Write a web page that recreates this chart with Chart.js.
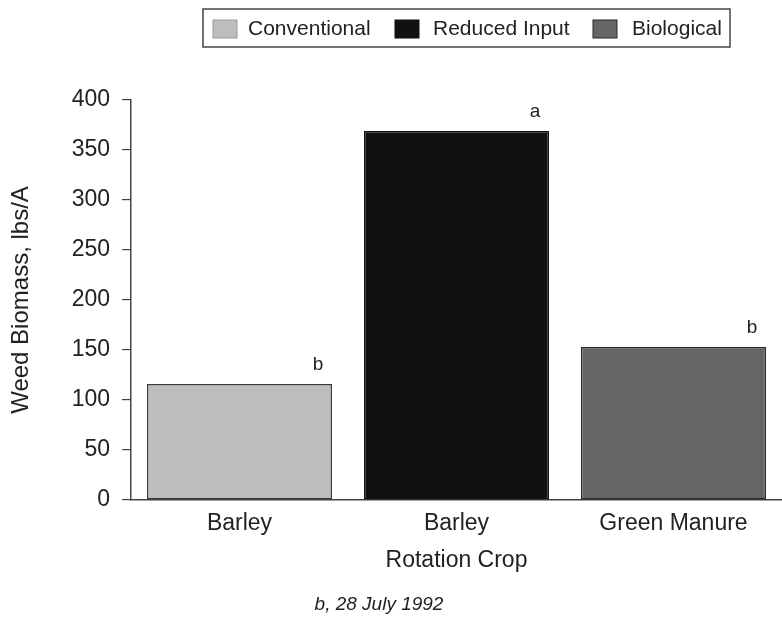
<!DOCTYPE html>
<html>
<head>
<meta charset="utf-8">
<script src="https://cdn.jsdelivr.net/npm/chart.js@4"></script>
<style>
html,body{margin:0;padding:0;background:#fff;overflow:hidden;}
#wrap{width:782px;height:621px;position:relative;}
</style>
</head>
<body>
<div id="wrap"><canvas id="c" width="782" height="621"></canvas></div>
<script>
const categories = ["Barley", "Barley", "Green Manure"];
const seriesNames = ["Conventional", "Reduced Input", "Biological"];
const conventional = [116, null, null];
const reducedInput = [null, 369, null];
const biological = [null, null, 153];
const letters = ["b", "a", "b"];
const yTicks = [0, 50, 100, 150, 200, 250, 300, 350, 400];

const fills = ["#bdbdbd", "#111111", "#666666"];
const borders = ["#3a3a3a", "#111111", "#2a2a2a"];
const FONT = "'Liberation Sans', Arial, Helvetica, sans-serif";

const seriesData = [conventional, reducedInput, biological];

const annotate = {
  id: 'annotate',
  afterDatasetsDraw(chart) {
    const ctx = chart.ctx;
    const y = chart.scales.y;
    ctx.save();
    ctx.font = "19px " + FONT;
    ctx.fillStyle = "#222";
    ctx.textAlign = "center";
    ctx.textBaseline = "alphabetic";
    seriesData.forEach((arr, di) => {
      const meta = chart.getDatasetMeta(di);
      arr.forEach((v, i) => {
        if (v === null) return;
        const el = meta.data[i];
        const right = el.x + el.width / 2;
        ctx.fillText(letters[i], right - 14, y.getPixelForValue(v) - 14);
      });
    });
    ctx.restore();
  },
  afterDraw(chart) {
    const ctx = chart.ctx;
    ctx.save();
    const bx = 203, by = 9, bw = 527, bh = 38;
    ctx.strokeStyle = "#444";
    ctx.lineWidth = 1.5;
    ctx.strokeRect(bx, by, bw, bh);
    ctx.font = "21px " + FONT;
    ctx.textBaseline = "middle";
    ctx.textAlign = "left";
    const items = [{sx: 213, tx: 248}, {sx: 395, tx: 433}, {sx: 593, tx: 632}];
    seriesNames.forEach((name, i) => {
      const it = items[i];
      ctx.fillStyle = fills[i];
      ctx.fillRect(it.sx, 20, 24, 18);
      ctx.strokeStyle = i === 0 ? "#999" : borders[i];
      ctx.lineWidth = 1;
      ctx.strokeRect(it.sx, 20, 24, 18);
      ctx.fillStyle = "#222";
      ctx.fillText(name, it.tx, 29);
    });
    ctx.font = "italic 19px " + FONT;
    ctx.textAlign = "center";
    ctx.textBaseline = "middle";
    ctx.fillText("b, 28 July 1992", 379, 605);
    ctx.restore();
  }
};

new Chart(document.getElementById('c'), {
  type: 'bar',
  data: {
    labels: categories,
    datasets: seriesNames.map((name, i) => ({
      label: name,
      data: seriesData[i],
      backgroundColor: fills[i],
      borderColor: borders[i],
      borderWidth: 1.5,
      borderSkipped: false,
      barPercentage: 0.853,
      categoryPercentage: 1.0,
      skipNull: true
    }))
  },
  options: {
    responsive: false,
    animation: false,
    devicePixelRatio: 1,
    layout: { padding: { top: 100, right: 0, bottom: 0, left: 0 } },
    plugins: { legend: { display: false }, tooltip: { enabled: false } },
    scales: {
      x: {
        afterFit(axis) { axis.height = 121; },
        grid: { display: false, drawTicks: false },
        border: { display: true, color: "#444", width: 1.5 },
        ticks: { color: "#222", font: { family: FONT, size: 23 }, padding: 10 },
        title: { display: true, text: "Rotation Crop", color: "#222", font: { family: FONT, size: 23 }, padding: { top: 0, bottom: 47 } }
      },
      y: {
        min: 0, max: 400,
        afterFit(axis) { axis.width = 131; },
        afterBuildTicks(axis) { axis.ticks = yTicks.map(v => ({ value: v })); },
        grid: { drawOnChartArea: false, drawTicks: true, tickLength: 9, color: "#444", lineWidth: 1.2 },
        border: { display: true, color: "#444", width: 1.5 },
        ticks: { color: "#222", font: { family: FONT, size: 23 }, padding: 12 },
        title: { display: true, text: "Weed Biomass, lbs/A", color: "#222", font: { family: FONT, size: 24 }, padding: { top: 7, bottom: 0 } }
      }
    }
  },
  plugins: [annotate]
});
</script>
</body>
</html>
